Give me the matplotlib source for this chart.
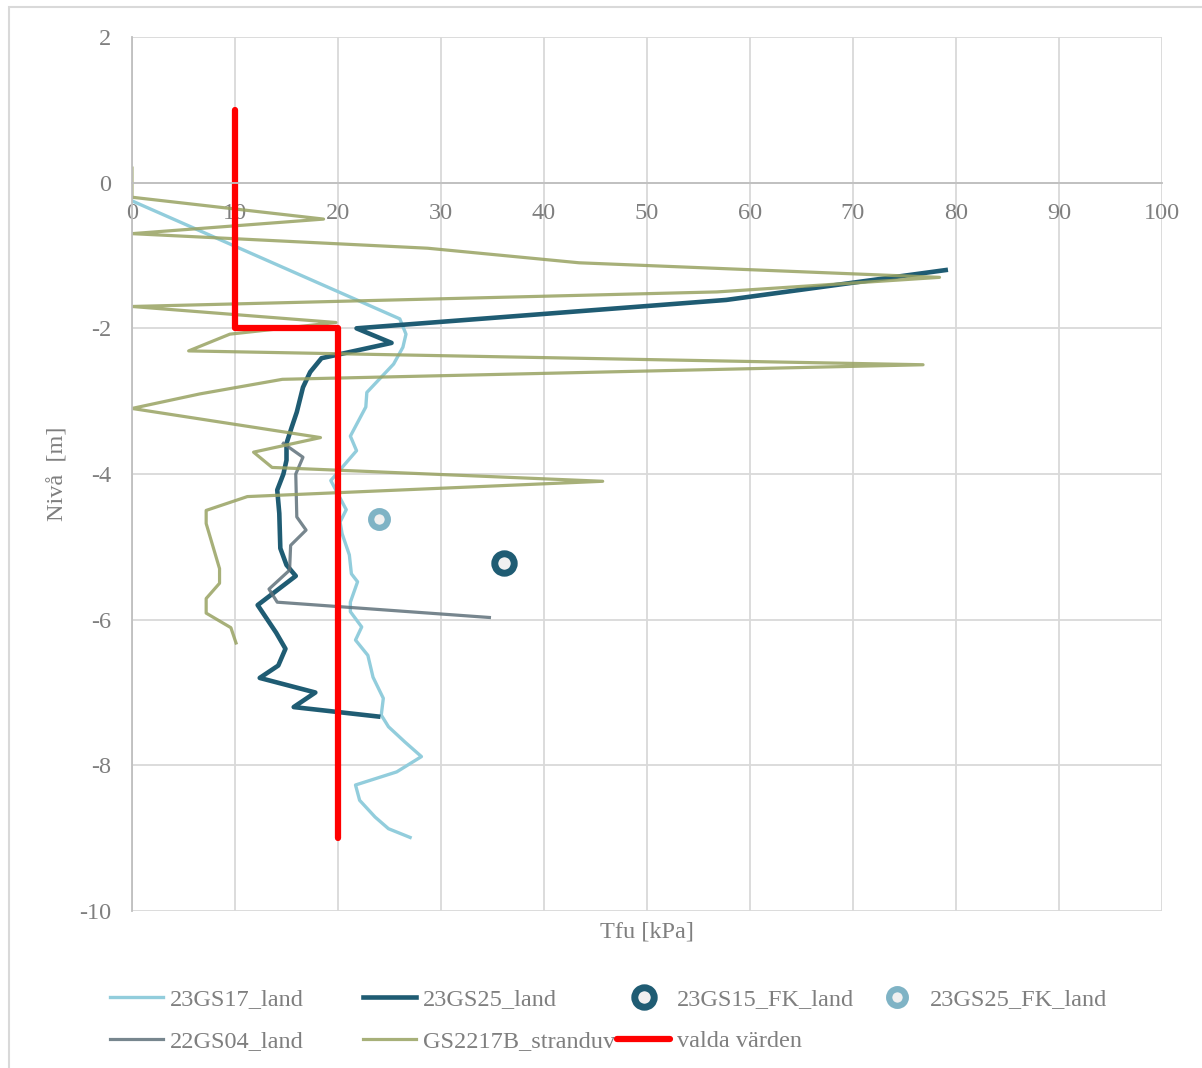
import matplotlib
matplotlib.use("Agg")
import matplotlib.pyplot as plt
from matplotlib.patches import Rectangle

plt.rcParams['font.family'] = ['Liberation Serif', 'DejaVu Serif']
plt.rcParams['axes.unicode_minus'] = False

# shear strength profiles, Tfu [kPa] against level [m]
gs17_tfu = [0, 26.0, 26.6, 26.3, 25.4, 22.8, 22.7, 21.2, 21.8, 19.3, 20.8, 20.2, 20.4, 21.1,
            21.3, 21.9, 21.2, 21.2, 22.3, 21.7, 22.9, 23.4, 24.4, 24.2, 24.9, 26.5, 28.1,
            25.7, 21.7, 22.1, 23.6, 24.9, 27.0]
gs17_niva = [-0.25, -1.87, -2.08, -2.26, -2.49, -2.88, -3.08, -3.48, -3.68, -4.09, -4.49,
             -4.66, -4.82, -5.11, -5.37, -5.48, -5.76, -5.89, -6.10, -6.28, -6.49, -6.79,
             -7.08, -7.31, -7.47, -7.68, -7.88, -8.09, -8.27, -8.48, -8.71, -8.87, -8.99]

gs25_tfu = [79.0, 57.7, 21.8, 25.2, 18.4, 17.3, 16.6, 16.0, 15.5, 15.0, 15.0, 14.7, 14.1,
            14.3, 14.4, 15.0, 15.9, 12.2, 14.0, 14.9, 14.2, 12.4, 17.8, 15.7, 23.9]
gs25_niva = [-1.20, -1.61, -2.00, -2.20, -2.41, -2.60, -2.81, -3.15, -3.36, -3.58, -3.81,
             -4.00, -4.22, -4.54, -5.02, -5.25, -5.40, -5.80, -6.18, -6.40, -6.63, -6.80,
             -7.00, -7.20, -7.33]

gs15_fk_tfu = [36.1]
gs15_fk_niva = [-5.22]
gs25_fk_tfu = [24.0]
gs25_fk_niva = [-4.62]

gs04_tfu = [14.7, 16.6, 15.9, 16.0, 16.9, 15.4, 15.3, 13.3, 14.1, 34.7]
gs04_niva = [-3.58, -3.77, -4.00, -4.59, -4.77, -4.98, -5.32, -5.58, -5.76, -5.97]

gs2217_tfu = [0, 0, 18.6, 0, 28.7, 43.4, 78.4, 56.8, 0, 19.8, 9.5, 5.5, 76.8, 14.6, 6.6,
              0, 18.3, 11.8, 13.6, 45.7, 11.2, 7.2, 7.2, 8.5, 8.5, 7.2, 7.2, 9.6, 10.1]
gs2217_niva = [0.2, -0.2, -0.5, -0.7, -0.9, -1.1, -1.3, -1.5, -1.7, -1.92, -2.08, -2.31,
               -2.5, -2.7, -2.9, -3.1, -3.5, -3.7, -3.91, -4.1, -4.31, -4.5, -4.68, -5.3,
               -5.5, -5.71, -5.91, -6.11, -6.32]

valda_tfu = [10, 10, 20, 20]
valda_niva = [1, -2, -2, -9]

grey = '#7f7f7f'
fig = plt.figure(figsize=(12.02, 10.68), dpi=100)
ax = fig.add_axes([132 / 1202, 1 - 911 / 1068, 1030 / 1202, 874 / 1068])

l1, = ax.plot(gs17_tfu, gs17_niva, color='#92cddc', lw=2.4, label='23GS17_land')
l2, = ax.plot(gs25_tfu, gs25_niva, color='#1f5c73', lw=3.3, label='23GS25_land')
m1, = ax.plot(gs15_fk_tfu, gs15_fk_niva, ls='none', marker='o', ms=14, mew=5,
              mec='#1f5c73', mfc='#f0f0f0', label='23GS15_FK_land')
m2, = ax.plot(gs25_fk_tfu, gs25_fk_niva, ls='none', marker='o', ms=12, mew=4.5,
              mec='#7fb3c5', mfc='#f0f0f0', label='23GS25_FK_land')
l3, = ax.plot(gs04_tfu, gs04_niva, color='#5f717a', lw=2.3, alpha=0.85, label='22GS04_land')
l4, = ax.plot(gs2217_tfu, gs2217_niva, color='#98a262', lw=2.3, alpha=0.85,
              label='GS2217B_stranduv')
l5, = ax.plot(valda_tfu, valda_niva, color='#ff0000', lw=4.5, solid_capstyle='round',
              label='valda värden')

ax.set_xlim(0, 100)
ax.set_ylim(-10, 2)
ax.set_xticks(range(0, 101, 10))
ax.set_yticks(range(-10, 3, 2))
ax.grid(True, color='#d9d9d9', lw=1.3)
ax.set_axisbelow(True)
for s in ['top', 'right']:
    ax.spines[s].set_visible(False)
ax.spines['bottom'].set_position(('data', 0))
ax.spines['bottom'].set_color('#bfbfbf')
ax.spines['left'].set_color('#bfbfbf')
ax.spines['bottom'].set_linewidth(1.3)
ax.spines['left'].set_linewidth(1.3)
ax.tick_params(axis='x', length=0, pad=14.5, labelsize=17.5, labelcolor=grey)
ax.tick_params(axis='y', length=0, pad=15, labelsize=17.5, labelcolor=grey)

ax.set_xlabel('Tfu [kPa]', fontsize=17.5, color=grey)
ax.xaxis.set_label_coords(0.5, -0.012)
ax.set_ylabel('Nivå  [m]', fontsize=17.5, color=grey)
ax.yaxis.set_label_coords(-0.072, 0.5)
ax.yaxis.label.set_va('center')

# legend laid out as four fixed-width columns
cols = [([l1, l3], 110), ([l2, l4], 363), ([m1, l5], 617), ([m2], 870)]
for handles, xpx in cols:
    fig.legend(handles=handles, loc='upper left', bbox_to_anchor=(xpx / 1202, 1 - 988 / 1068),
               frameon=False, fontsize=17.5, labelcolor=grey, handlelength=2.2,
               handletextpad=0.25, borderpad=0, borderaxespad=0, labelspacing=0.83)

fig.patches.append(Rectangle((9 / 1202, -0.1), 1.2, 1 - 7 / 1068 + 0.1,
                             transform=fig.transFigure, fill=False, ec='#d9d9d9', lw=1.5))

fig.savefig('out.png', dpi=100)
